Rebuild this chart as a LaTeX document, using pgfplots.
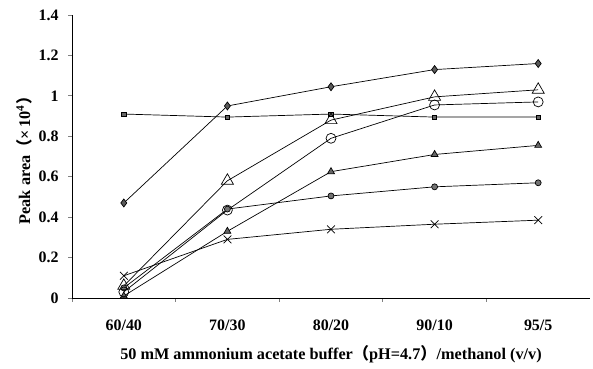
\documentclass[border=0pt]{standalone}
\usepackage{fontspec}
\setmainfont{Liberation Serif}
\newfontfamily\cjk{Noto Sans CJK SC}
\usepackage{pgfplots}
\pgfplotsset{compat=1.18}
\begin{document}
\begin{tikzpicture}
\begin{axis}[
  scale only axis, width=518bp, height=283bp,
  xmin=-0.5, xmax=4.5, ymin=0, ymax=1.4,
  axis x line*=bottom, axis y line*=left,
  axis line style={-, line width=0.8pt},
  xtick={0,1,2,3,4},
  xticklabels={60/40,70/30,80/20,90/10,95/5},
  major x tick style={draw=none},
  minor xtick={-0.5,0.5,1.5,2.5,3.5},
  minor tick length=4pt,
  x tick style={line width=0.8pt},
  ytick={0,0.2,0.4,0.6,0.8,1,1.2,1.4},
  yticklabels={0,0.2,0.4,0.6,0.8,1,1.2,1.4},
  y tick style={line width=0.8pt},
  major tick length=4pt,
  tick align=outside,
  ticklabel style={font=\fontsize{16}{18}\selectfont\bfseries},
  yticklabel style={xshift=-6pt},
  xticklabel style={yshift=-14pt},
  label style={font=\fontsize{16.3}{18}\selectfont\bfseries},
  xlabel={50 mM ammonium acetate buffer{\cjk （}pH=4.7{\cjk ）}/methanol (v/v)},
  ylabel={Peak area{\cjk （}×\,10\textsuperscript{4}{\cjk ）}},
  xlabel style={yshift=-8pt},
  ylabel style={yshift=0pt},
  every axis plot/.append style={black, line width=0.7pt},
  clip=false,
]
\addplot[mark=diamond*, mark size=4pt, mark options={fill=black!65, draw=black}] coordinates {(0,0.47) (1,0.95) (2,1.045) (3,1.13) (4,1.16)};
\addplot[mark=square*, mark size=2.2pt, mark options={fill=black!60, draw=black}] coordinates {(0,0.91) (1,0.895) (2,0.91) (3,0.895) (4,0.895)};
\addplot[mark=x, mark size=5.5pt] coordinates {(0,0.11) (1,0.29) (2,0.34) (3,0.365) (4,0.385)};
\addplot[mark=*, mark size=3pt, mark options={fill=black!55, draw=black}] coordinates {(0,0.05) (1,0.44) (2,0.505) (3,0.55) (4,0.57)};
\addplot[mark=triangle*, mark size=4pt, mark options={fill=black!60, draw=black}] coordinates {(0,0.01) (1,0.33) (2,0.625) (3,0.71) (4,0.755)};
\addplot[mark=o, mark size=5pt, mark options={fill=white, draw=black}] coordinates {(0,0.03) (1,0.435) (2,0.79) (3,0.955) (4,0.97)};
\addplot[mark=triangle, mark size=7pt, mark options={fill=white, draw=black}] coordinates {(0,0.06) (1,0.58) (2,0.88) (3,0.995) (4,1.03)};
\end{axis}
\pgfresetboundingbox
\path[use as bounding box] (current axis.south west) ++(-72bp,-71bp) rectangle ++(593bp,369bp);
\end{tikzpicture}
\end{document}
